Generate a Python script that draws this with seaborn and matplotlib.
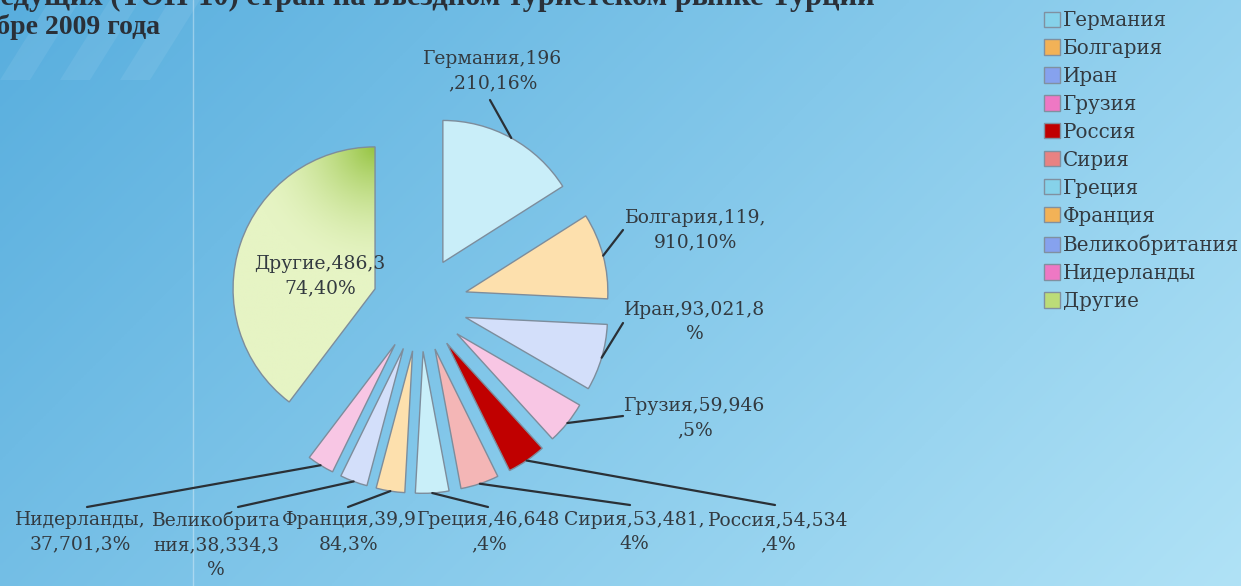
import matplotlib
matplotlib.use('Agg')
import matplotlib.pyplot as plt
from matplotlib.patches import Patch, Polygon
import seaborn as sns
import numpy as np

# data (tourist arrivals, TOP-10 + others)
countries = ['Германия', 'Болгария', 'Иран', 'Грузия', 'Россия', 'Сирия',
             'Греция', 'Франция', 'Великобритания', 'Нидерланды', 'Другие']
arrivals = [196210, 119910, 93021, 59946, 54534, 53481,
            46648, 39984, 38334, 37701, 486374]
# labels as the chart wraps them
slice_labels = ['Германия,196\n,210,16%', 'Болгария,119,\n910,10%', 'Иран,93,021,8\n%',
                'Грузия,59,946\n,5%', 'Россия,54,534\n,4%', 'Сирия,53,481,\n4%',
                'Греция,46,648\n,4%', 'Франция,39,9\n84,3%', 'Великобрита\nния,38,334,3\n%',
                'Нидерланды,\n37,701,3%', 'Другие,486,3\n74,40%']

slice_colors = ['#c9eef9', '#fde0ad', '#d3dffa', '#f8c6e4', '#c00000', '#f4b6b6',
                '#c9eff9', '#fde0ad', '#d3dffa', '#f8c6e4', '#e2f2b8']
legend_colors = ['#86d2ea', '#f2b257', '#86a2ee', '#ee78c4', '#c00000', '#e88282',
                 '#86d2ea', '#f2b257', '#86a2ee', '#ee78c4', '#bcdc78']

# label placement in pixels (x, y, vertical alignment) and leader line end
label_pos = [(493, 71, 'center'), (696, 230, 'center'), (695, 322, 'center'),
             (695, 418, 'center'), (778, 511, 'top'), (634, 511, 'top'),
             (489, 511, 'top'), (349, 511, 'top'), (216, 511, 'top'),
             (80, 511, 'top'), (320, 276, 'center')]
line_end = [(490, 100), (623, 230), (623, 323), (623, 416), (775, 505), (630, 505),
            (488, 507), (348, 507), (238, 507), (87, 507), None]

W, H = 1241, 586
sns.set_theme(style="white")
plt.rcParams['font.family'] = ['DejaVu Serif']
text_color = '#333a40'

fig = plt.figure(figsize=(W / 100, H / 100), dpi=100)

# gradient background
bg = fig.add_axes([0, 0, 1, 1])
bg.set_zorder(0)
X, Y = np.meshgrid(np.linspace(0, 1, 400), np.linspace(0, 1, 200))
t = (0.75 * X + 0.35 * Y) / 1.1
c0 = np.array([0x58, 0xae, 0xde]) / 255
c1 = np.array([0xb0, 0xe2, 0xf6]) / 255
img = c0 + (c1 - c0) * t[..., None]
bg.imshow(img, extent=[0, W, H, 0], aspect='auto')
bg.axvline(193, color='white', alpha=0.35, lw=1)
for x0 in [0, 60, 120]:
    bg.add_patch(Polygon([(x0, 80), (x0 + 30, 80), (x0 + 80, 0), (x0 + 50, 0)],
                         closed=True, color='white', alpha=0.07, lw=0))
bg.set_xlim(0, W)
bg.set_ylim(H, 0)
bg.axis('off')

# pie: centre at (420, 304) px, radius 142 px
cx, cy, r = 420, 304, 142
pax = fig.add_axes([(cx - 1.5 * r) / W, (H - cy - 1.5 * r) / H, 3 * r / W, 3 * r / H])
pax.set_zorder(1)
wedges, _ = pax.pie(arrivals, colors=slice_colors, startangle=90, counterclock=False,
                    explode=[0.334] * len(arrivals),
                    wedgeprops=dict(edgecolor='#7d8d9c', linewidth=1.0))

# green shading on the "Другие" slice
other = wedges[-1]
ox, oy = other.center
gx, gy = np.meshgrid(np.linspace(-1.5, 0, 200), np.linspace(-1.0, 1.2, 200))
d = np.hypot(gx - ox, gy - (oy + 1.0))
k = np.clip(1 - d / 0.9, 0, 1) ** 1.8
pale = np.array([0xe6, 0xf4, 0xc4]) / 255
green = np.array([0x96, 0xc4, 0x42]) / 255
shade = pale + (green - pale) * k[..., None]
im = pax.imshow(shade, extent=[-1.5, 0, -1.0, 1.2], origin='lower', aspect='auto', zorder=1.5)
im.set_clip_path(other)
other.set_facecolor('none')
other.set_zorder(2)

pax.set_xlim(-1.5, 1.5)
pax.set_ylim(-1.5, 1.5)
pax.axis('off')

# overlay for text in pixel coords
ov = fig.add_axes([0, 0, 1, 1])
ov.set_zorder(2)
ov.patch.set_alpha(0)
ov.set_xlim(0, W)
ov.set_ylim(H, 0)
ov.axis('off')

for w, lab, pos, end in zip(wedges, slice_labels, label_pos, line_end):
    if end is not None:
        ang = np.deg2rad((w.theta1 + w.theta2) / 2)
        p = (w.center[0] + w.r * np.cos(ang), w.center[1] + w.r * np.sin(ang))
        disp = pax.transData.transform(p)
        px, py = ov.transData.inverted().transform(disp)
        ov.plot([px, end[0]], [py, end[1]], color='#2a3036', lw=1.6)
    ov.text(pos[0], pos[1], lab, ha='center', va=pos[2], multialignment='center',
            fontsize=13.5, color=text_color, linespacing=1.45)

# title, cut off by the frame as in the source slide
ov.text(875, 5, 'Доля ведущих (ТОП-10) стран на въездном туристском рынке Турции',
        ha='right', va='baseline', fontsize=22, fontweight='bold',
        color='#2a3038', family=['Liberation Serif'])
ov.text(160, 34, 'в ноябре 2009 года', ha='right', va='baseline', fontsize=20,
        fontweight='bold', color='#2a3038', family=['Liberation Serif'])

handles = [Patch(facecolor=c, edgecolor='#8090a0', lw=1) for c in legend_colors]
fig.legend(handles, countries, loc='upper left', bbox_to_anchor=(1044 / W, 1 - 11 / H),
           frameon=False, fontsize=14.3, handlelength=0.8, handleheight=0.8,
           handletextpad=0.15, labelspacing=0.45, borderaxespad=0, borderpad=0,
           labelcolor=text_color)

fig.savefig('out.png', dpi=100)
